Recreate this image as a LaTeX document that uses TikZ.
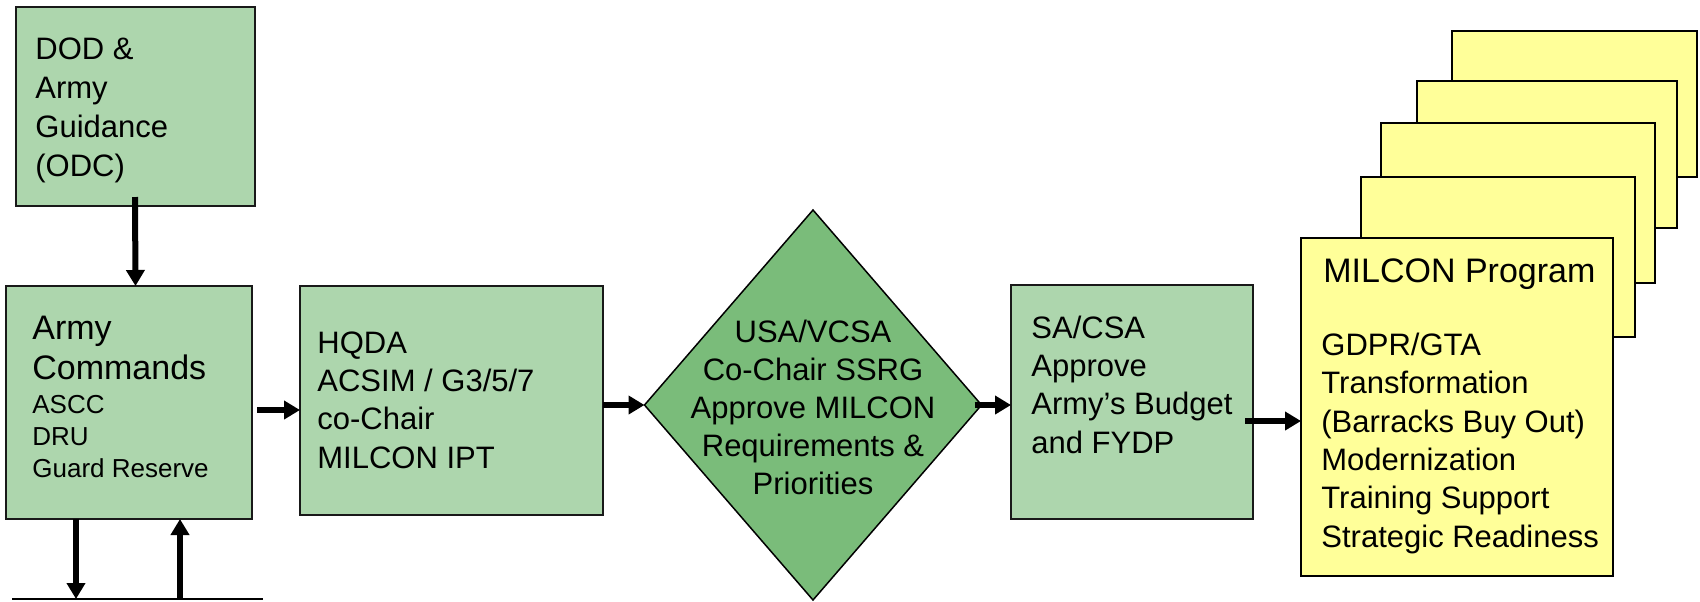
\documentclass[tikz,border=0pt]{standalone}
\usepackage{fontspec}
\setmainfont{Liberation Sans}
\usetikzlibrary{shapes.geometric,arrows.meta,calc}
\definecolor{lgreen}{RGB}{173,214,173}
\definecolor{dgreen}{RGB}{122,188,122}
\definecolor{pyellow}{RGB}{255,255,153}
\begin{document}
\begin{tikzpicture}[x=0.5pt,y=-0.5pt,
  wh/.style 2 args={minimum width=#1*0.5pt, minimum height=#2*0.5pt},
  gbox/.style={draw=black!90, line width=0.75pt, fill=lgreen, inner sep=0pt, outer sep=0pt, anchor=north west},
  ybox/.style={draw=black, line width=1pt, fill=pyellow, inner sep=0pt, outer sep=0pt, anchor=north west},
  txt/.style={anchor=base west, align=left, inner sep=0pt, font=\fontsize{15.5}{19.15}\selectfont},
  ctxt/.style={anchor=base, align=center, inner sep=0pt, font=\fontsize{15.5}{19}\selectfont},
  arr/.style={line width=3pt, -{Triangle[length=8pt,width=9pt]}},
]
\useasboundingbox (0,0) rectangle (1700,601);

% boxes
\node[gbox, wh={239}{199}] (dod) at (16,7) {};
\node[gbox, wh={246}{233}] (army) at (6,286) {};
\node[gbox, wh={303}{229}] (hqda) at (300,286) {};
\node[draw=black, line width=0.75pt, fill=dgreen, diamond, inner sep=0pt, outer sep=0pt,
      wh={337}{390}] (dia) at (813,405) {};
\node[gbox, wh={242}{234}] (sa) at (1011,285) {};

% stacked program sheets
\node[ybox, wh={245}{146}] (p5) at (1452,31) {};
\node[ybox, wh={260}{147}] (p4) at (1417,81) {};
\node[ybox, wh={274}{160}] (p3) at (1381,123) {};
\node[ybox, wh={274}{160}] (p2) at (1361,177) {};
\node[ybox, wh={312}{338}] (front) at (1301,238) {};

% texts (anchored at the baseline of their last line)
\node[txt, font=\fontsize{15.5}{19.4}\selectfont] (tdod) at (35,176) {DOD \&\\Army\\Guidance\\(ODC)};
\node[txt, font=\fontsize{17}{20}\selectfont] (tarmy) at (32,379) {Army\\Commands};
\node[txt, font=\fontsize{13}{16}\selectfont] (tarmy2) at (32,477) {ASCC\\DRU\\Guard Reserve};
\node[txt] (thqda) at (317,468) {HQDA\\ACSIM / G3/5/7\\co-Chair\\MILCON IPT};
\node[ctxt] (tdia) at (813,494) {USA/VCSA\\Co-Chair SSRG\\Approve MILCON\\Requirements \&\\Priorities};
\node[txt] (tsa) at (1031,453) {SA/CSA\\Approve\\Army’s Budget\\and FYDP};
\node[txt, font=\fontsize{17}{20}\selectfont] (tprog) at (1323,282) {MILCON Program};
\node[txt] (tlist) at (1321,547) {GDPR/GTA\\Transformation\\(Barracks Buy Out)\\Modernization\\Training Support\\Strategic Readiness};

% connectors
\draw[arr] ($(dod.south)+(-0.5,-9)$) -- (dod.south |- army.north);
\coordinate (a1) at ($(army.east)+(5,7.5)$);
\draw[arr] (a1) -- (a1 -| hqda.west);
\draw[arr] (hqda.east |- dia.west) -- (dia.west);
\draw[arr] ($(dia.east)+(-7,0)$) -- (dia.east -| sa.west);
\coordinate (s1) at ($(sa.east)+(-8,19)$);
\draw[arr] (s1) -- (s1 -| front.west);

% bottom line and return arrows
\coordinate (bl) at (12,599);
\coordinate (br) at (263,599);
\draw[line width=0.9pt] (bl) -- (br);
\coordinate (d1) at (76,599);
\coordinate (u1) at (180,599);
\draw[arr] (army.south -| d1) -- (d1);
\draw[arr] (u1) -- (army.south -| u1);
\end{tikzpicture}
\end{document}
